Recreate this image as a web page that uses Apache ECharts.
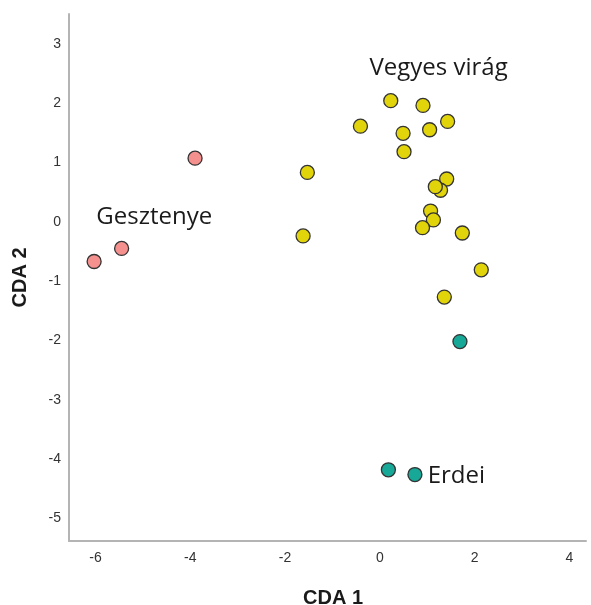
<!DOCTYPE html>
<html>
<head>
<meta charset="utf-8">
<script src="https://cdn.jsdelivr.net/npm/echarts@6/dist/echarts.min.js"></script>
<style>
  html, body { margin: 0; padding: 0; background: #fff; }
  #chart { width: 591px; height: 605px; }
</style>
</head>
<body>
<div id="chart"></div>
<script>
// CDA scores per group: [CDA 1, CDA 2]
const gesztenye = [[-6.03, -0.67], [-5.45, -0.45], [-3.90, 1.07]];
const vegyesVirag = [
  [-1.53, 0.83], [-1.62, -0.24], [-0.41, 1.61], [0.23, 2.04], [0.91, 1.96],
  [0.49, 1.49], [1.05, 1.55], [1.43, 1.69], [0.51, 1.18], [1.41, 0.72],
  [1.28, 0.53], [1.17, 0.59], [1.07, 0.18], [1.13, 0.03], [0.90, -0.10],
  [1.74, -0.19], [2.14, -0.81], [1.36, -1.27]
];
const erdei = [[1.69, -2.02], [0.18, -4.18], [0.74, -4.26]];

// group names placed in data space
const groupLabels = [
  { name: 'Vegyes virág', pos: [1.24, 2.58], align: 'center' },
  { name: 'Gesztenye', pos: [-4.76, 0.07], align: 'center' },
  { name: 'Erdei', pos: [1.01, -4.28], align: 'left' }
];

const xTicks = [-6, -4, -2, 0, 2, 4];
const yTicks = [-5, -4, -3, -2, -1, 0, 1, 2, 3];

const chart = echarts.init(document.getElementById('chart'));

const pointStyle = (color) => ({
  color: color,
  borderColor: '#333',
  borderWidth: 1.3,
  opacity: 1
});

const axisLabelFont = { fontFamily: 'Liberation Sans, Arial, sans-serif', fontSize: 14, color: '#333' };
const axisNameFont = { fontFamily: 'Liberation Sans, Arial, sans-serif', fontSize: 20, fontWeight: 'bold', color: '#1a1a1a' };

chart.setOption({
  animation: false,
  backgroundColor: '#fff',
  grid: { left: 69, right: 5, top: 14, bottom: 64, outerBoundsMode: 'none', containLabel: false },
  xAxis: {
    type: 'value',
    min: -6.56, max: 4.35,
    splitLine: { show: false },
    axisTick: { show: false },
    axisLine: { onZero: false, lineStyle: { color: '#b4b4b4', width: 2 } },
    axisLabel: Object.assign({ customValues: xTicks, margin: 10 }, axisLabelFont),
    name: 'CDA 1',
    nameLocation: 'middle',
    nameGap: 47,
    nameTextStyle: Object.assign({ padding: [0, 0, 0, 11] }, axisNameFont)
  },
  yAxis: {
    type: 'value',
    min: -5.38, max: 3.50,
    splitLine: { show: false },
    axisTick: { show: false },
    axisLine: { onZero: false, lineStyle: { color: '#b4b4b4', width: 2 } },
    axisLabel: Object.assign({ customValues: yTicks, margin: 8 }, axisLabelFont),
    name: 'CDA 2',
    nameLocation: 'middle',
    nameGap: 39,
    nameTextStyle: Object.assign({ padding: [0, 0, 0, 0] }, axisNameFont)
  },
  series: [
    { type: 'scatter', name: 'Gesztenye', data: gesztenye, symbolSize: 14, itemStyle: pointStyle('#f4908e'), z: 3 },
    { type: 'scatter', name: 'Vegyes virág', data: vegyesVirag, symbolSize: 14, itemStyle: pointStyle('#e2d40a'), z: 3 },
    { type: 'scatter', name: 'Erdei', data: erdei, symbolSize: 14, itemStyle: pointStyle('#17a898'), z: 3 },
    {
      type: 'scatter',
      name: 'labels',
      symbolSize: 1,
      silent: true,
      itemStyle: { opacity: 0 },
      data: groupLabels.map(g => ({
        value: g.pos,
        label: {
          show: true,
          position: 'inside',
          formatter: g.name,
          align: g.align,
          verticalAlign: 'middle',
          fontFamily: 'Open Sans, sans-serif',
          fontSize: 24,
          color: '#1a1a1a',
          opacity: 1
        }
      }))
    }
  ]
});
</script>
</body>
</html>
